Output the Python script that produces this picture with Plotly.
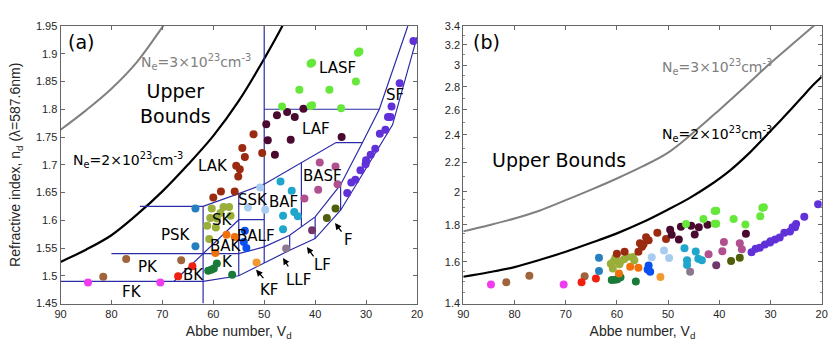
import numpy as np
import plotly.graph_objs as go

# ---- glass families: Abbe number V_d and refractive index n_d ----
families = ["FK", "PK", "BK", "K", "BAK", "PSK", "SK", "SSK", "BALF", "BAF",
            "BASF", "LF", "F", "LLF", "KF", "LAK", "LAF", "LASF", "SF"]

fk_v = [84.6, 70.4]
fk_n = [1.488, 1.488]
pk_v = [81.6, 77.1, 66.3]
pk_n = [1.498, 1.530, 1.528]
bk_v = [66.9, 64.1]
bk_n = [1.499, 1.517]
k_v = [61.0, 60.4, 59.9, 59.3, 56.3]
k_n = [1.509, 1.511, 1.513, 1.522, 1.502]
bak_v = [59.6, 57.4, 55.8]
bak_n = [1.541, 1.574, 1.570]
psk_v = [63.5, 63.5]
psk_n = [1.621, 1.553]
sk_v = [60.3, 58.0, 56.9, 58.6, 60.6, 59.3, 56.6, 61.2, 59.5, 60.8]
sk_n = [1.621, 1.624, 1.624, 1.613, 1.604, 1.603, 1.608, 1.590, 1.587, 1.566]
ssk_v = [50.8, 53.2, 49.8]
ssk_n = [1.659, 1.623, 1.619]
balf_v = [53.8, 54.0, 53.5]
balf_n = [1.581, 1.561, 1.550]
baf_v = [46.8, 44.6, 46.3, 44.1, 43.4, 46.3]
baf_n = [1.670, 1.653, 1.608, 1.615, 1.607, 1.584]
basf_v = [39.1, 36.0, 35.6, 39.4, 42.1]
basf_n = [1.704, 1.697, 1.665, 1.655, 1.639]
lf_v = [40.6]
lf_n = [1.582]
f_v = [37.7, 36.0]
f_n = [1.604, 1.621]
llf_v = [45.7]
llf_n = [1.549]
kf_v = [51.5]
kf_n = [1.524]
lak_v = [52.1, 54.3, 53.8, 50.4, 55.5, 54.8, 55.1, 55.8, 58.5, 60.0]
lak_n = [1.755, 1.730, 1.714, 1.721, 1.698, 1.692, 1.679, 1.652, 1.652, 1.641]
laf_v = [49.6, 49.3, 47.5, 45.5, 44.0, 42.3, 44.8, 47.9, 34.8]
laf_n = [1.773, 1.744, 1.789, 1.795, 1.786, 1.801, 1.745, 1.718, 1.750]
lasf_v = [40.9, 40.6, 31.6, 31.3, 32.0, 37.2, 43.1, 46.5, 40.9, 40.6, 34.9]
lasf_n = [1.882, 1.884, 1.902, 1.904, 1.850, 1.835, 1.835, 1.805, 1.806, 1.807, 1.802]
sf_v = [20.7, 23.4, 25.0, 25.7, 25.2, 26.2, 27.3, 28.2, 29.1, 30.0, 30.1, 31.1, 32.1, 32.9, 33.7]
sf_n = [1.923, 1.847, 1.805, 1.786, 1.786, 1.763, 1.756, 1.729, 1.718, 1.708, 1.701, 1.690, 1.673, 1.668, 1.649]

family_v = [fk_v, pk_v, bk_v, k_v, bak_v, psk_v, sk_v, ssk_v, balf_v, baf_v,
            basf_v, lf_v, f_v, llf_v, kf_v, lak_v, laf_v, lasf_v, sf_v]
family_n = [fk_n, pk_n, bk_n, k_n, bak_n, psk_n, sk_n, ssk_n, balf_n, baf_n,
            basf_n, lf_n, f_n, llf_n, kf_n, lak_n, laf_n, lasf_n, sf_n]
family_colors = ["#f03cf0", "#a0643c", "#f02010", "#1a7a3a", "#f0700a", "#2680c0",
                 "#9aae3a", "#a8ccf0", "#0a50f0", "#1ea6cc", "#b0508e", "#703868",
                 "#50600a", "#8c7890", "#f09a30", "#9a2a10", "#4a0a30", "#66e83a", "#6030d8"]

# ---- upper bound curves ----
ne2_v = [90, 85, 80, 75, 70, 65, 60, 55, 50, 46, 42, 38, 34, 30, 27, 24, 22, 20]
ne2_n = [1.525, 1.547, 1.573, 1.610, 1.652, 1.700, 1.752, 1.815, 1.891, 1.958,
         2.040, 2.140, 2.270, 2.430, 2.560, 2.700, 2.800, 2.890]
ne3_v = [90, 85, 80, 75, 70, 65, 60, 55, 50, 45, 40, 35, 30, 25, 21.6, 20]
ne3_n = [1.763, 1.798, 1.837, 1.885, 1.948, 2.015, 2.088, 2.170, 2.268, 2.420,
         2.600, 2.800, 3.020, 3.240, 3.400, 3.480]

# ---- glass-region boundaries (V, n) ----
bound_lines = [
    ([80, 55, 50, 45, 40, 35, 30.7, 27.4, 21.8],
     [1.54, 1.54, 1.552, 1.573, 1.606, 1.664, 1.74, 1.80, 1.95]),
    ([90, 62, 55, 50, 45, 40, 35, 24.8, 20],
     [1.49, 1.49, 1.50, 1.523, 1.546, 1.567, 1.618, 1.772, 1.93]),
    ([74.4, 62, 55, 50, 35.9, 30.7], [1.625, 1.625, 1.648, 1.665, 1.74, 1.74]),
    ([62, 62], [1.45, 1.625]),
    ([55, 55], [1.50, 1.648]),
    ([50, 50], [1.523, 1.95]),
    ([42.7, 42.7], [1.588, 1.704]),
    ([45, 45], [1.546, 1.573]),
    ([40, 40], [1.567, 1.606]),
    ([35, 35], [1.618, 1.664]),
    ([55, 50], [1.601, 1.601]),
    ([50, 27.4], [1.80, 1.80]),
    ([67.7, 55], [1.49, 1.601]),
]

region_labels = ["LASF", "SF", "LAF", "LAK", "BASF", "SSK", "BAF", "SK", "PSK",
                 "BALF", "BAK", "K", "PK", "BK", "FK", "KF", "LLF", "LF", "F"]
region_v = [35.6, 24.3, 39.8, 60.1, 38.6, 52.2, 46.2, 58.2, 67.3,
            51.7, 57.6, 57.3, 72.8, 63.9, 75.9, 49.1, 43.3, 38.5, 33.5]
region_n = [1.874, 1.825, 1.765, 1.697, 1.680, 1.637, 1.633, 1.601, 1.574,
            1.571, 1.553, 1.525, 1.516, 1.502, 1.471, 1.474, 1.493, 1.519, 1.564]

# arrows: (tip V, tip n, tail V, tail n)
arrow_tip_v = [51.6, 46.3, 41.6, 36.1]
arrow_tip_n = [1.511, 1.532, 1.552, 1.595]
arrow_tail_v = [49.9, 45.1, 40.1, 34.6]
arrow_tail_n = [1.493, 1.514, 1.532, 1.577]

fig = go.Figure()

for xa, ya in [("x", "y"), ("x2", "y2")]:
    fig.add_trace(go.Scatter(x=ne3_v, y=ne3_n, mode="lines", line=dict(color="#808080", width=2, shape="spline"),
                             xaxis=xa, yaxis=ya, showlegend=False, hoverinfo="skip"))
    fig.add_trace(go.Scatter(x=ne2_v, y=ne2_n, mode="lines", line=dict(color="black", width=2.2, shape="spline"),
                             xaxis=xa, yaxis=ya, showlegend=False, hoverinfo="skip"))

# boundaries (left panel only)
bx, by = [], []
for vv, nn in bound_lines:
    bx += vv + [None]
    by += nn + [None]
fig.add_trace(go.Scatter(x=bx, y=by, mode="lines", line=dict(color="#2c2ca6", width=1.2),
                         xaxis="x", yaxis="y", showlegend=False, hoverinfo="skip"))

for name, vv, nn, c in zip(families, family_v, family_n, family_colors):
    for xa, ya in [("x", "y"), ("x2", "y2")]:
        fig.add_trace(go.Scatter(x=vv, y=nn, mode="markers", name=name,
                                 marker=dict(color=c, size=8, line=dict(width=0)),
                                 xaxis=xa, yaxis=ya, showlegend=False))

lab_font = dict(family="DejaVu Sans", size=15, color="black")
ann = []
for t, v, n in zip(region_labels, region_v, region_n):
    ann.append(dict(x=v, y=n, xref="x", yref="y", text=t, showarrow=False, font=lab_font))
for tv, tn, av, an in zip(arrow_tip_v, arrow_tip_n, arrow_tail_v, arrow_tail_n):
    ann.append(dict(x=tv, y=tn, ax=av, ay=an, xref="x", yref="y", axref="x", ayref="y",
                    text="", showarrow=True, arrowhead=2, arrowsize=1, arrowwidth=1.3,
                    arrowcolor="black"))

ne3_txt = "N<sub>e</sub>=3\u00d710<sup>23</sup>cm<sup>-3</sup>"
ne2_txt = "N<sub>e</sub>=2\u00d710<sup>23</sup>cm<sup>-3</sup>"
ann += [
    dict(x=85.9, y=1.922, xref="x", yref="y", text="(a)", showarrow=False,
         font=dict(family="DejaVu Sans", size=19, color="black")),
    dict(x=67.4, y=1.811, xref="x", yref="y", text="Upper<br>Bounds", showarrow=False,
         font=dict(family="DejaVu Sans", size=19, color="black"), align="center"),
    dict(x=63.3, y=1.885, xref="x", yref="y", text=ne3_txt, showarrow=False,
         font=dict(family="DejaVu Sans", size=14, color="#808080")),
    dict(x=76.7, y=1.708, xref="x", yref="y", text=ne2_txt, showarrow=False,
         font=dict(family="DejaVu Sans", size=14, color="black")),
    dict(x=85.4, y=np.log10(3.233), xref="x2", yref="y2", text="(b)", showarrow=False,
         font=dict(family="DejaVu Sans", size=19, color="black")),
    dict(x=71.4, y=np.log10(2.213), xref="x2", yref="y2", text="Upper Bounds", showarrow=False,
         font=dict(family="DejaVu Sans", size=19, color="black")),
    dict(x=40.5, y=np.log10(2.982), xref="x2", yref="y2", text=ne3_txt, showarrow=False,
         font=dict(family="DejaVu Sans", size=14, color="#808080")),
    dict(x=40.5, y=np.log10(2.411), xref="x2", yref="y2", text=ne2_txt, showarrow=False,
         font=dict(family="DejaVu Sans", size=14, color="black")),
]

tick_font = dict(family="Liberation Sans", size=11, color="#262626")
title_font = dict(family="Liberation Sans", size=14, color="#262626")
axis_common = dict(showline=True, linecolor="#666666", linewidth=1, mirror="ticks",
                   ticks="inside", ticklen=4, tickcolor="#666666", showgrid=False,
                   zeroline=False, tickfont=tick_font, automargin=False)

ylog_vals = [1.4, 1.6, 1.8, 2.0, 2.2, 2.4, 2.6, 2.8, 3.0, 3.2, 3.4]
ylog_text = ["1.4", "1.6", "1.8", "2", "2.2", "2.4", "2.6", "2.8", "3", "3.2", "3.4"]
ylog_minor = [1.45, 1.5, 1.55, 1.65, 1.7, 1.75, 1.85, 1.9, 1.95, 2.1, 2.3, 2.5, 2.7, 2.9, 3.1, 3.3]

W, H = 830, 347
def xdom(p0, p1):
    return [p0 / W, p1 / W]
ydom = [1 - 303.5 / H, 1 - 26 / H]

fig.update_layout(
    width=W, height=H, margin=dict(l=0, r=0, t=0, b=0, autoexpand=False),
    paper_bgcolor="white", plot_bgcolor="white", hovermode=False,
    xaxis=dict(domain=xdom(60.5, 417), range=[90, 20], tickvals=[90, 80, 70, 60, 50, 40, 30, 20],
               title=dict(text="Abbe number, V<sub>d</sub>", font=title_font, standoff=7), **axis_common),
    yaxis=dict(domain=ydom, range=[1.45, 1.95],
               tickvals=[1.45, 1.5, 1.55, 1.6, 1.65, 1.7, 1.75, 1.8, 1.85, 1.9, 1.95],
               ticktext=["1.45", "1.5", "1.55", "1.6", "1.65", "1.7", "1.75", "1.8", "1.85", "1.9", "1.95"],
               title=dict(text="Refractive index, n<sub>d</sub> (\u03bb=587.6nm)", font=title_font, standoff=11),
               **axis_common),
    xaxis2=dict(domain=xdom(463.3, 821.7), range=[90, 20], tickvals=[90, 80, 70, 60, 50, 40, 30, 20],
                anchor="y2",
                title=dict(text="Abbe number, V<sub>d</sub>", font=title_font, standoff=7), **axis_common),
    yaxis2=dict(domain=ydom, type="log", range=[np.log10(1.4), np.log10(3.4)],
                tickvals=ylog_vals, ticktext=ylog_text, anchor="x2",
                minor=dict(tickvals=ylog_minor, ticks="inside", ticklen=2, tickcolor="#888888"),
                **axis_common),
    annotations=ann,
)

# drop the browser's default 8px page margin so the figure sits at (0, 0)
fig.write_html("out.html", config={"displayModeBar": False},
               post_script="document.body.style.margin='0px';")
